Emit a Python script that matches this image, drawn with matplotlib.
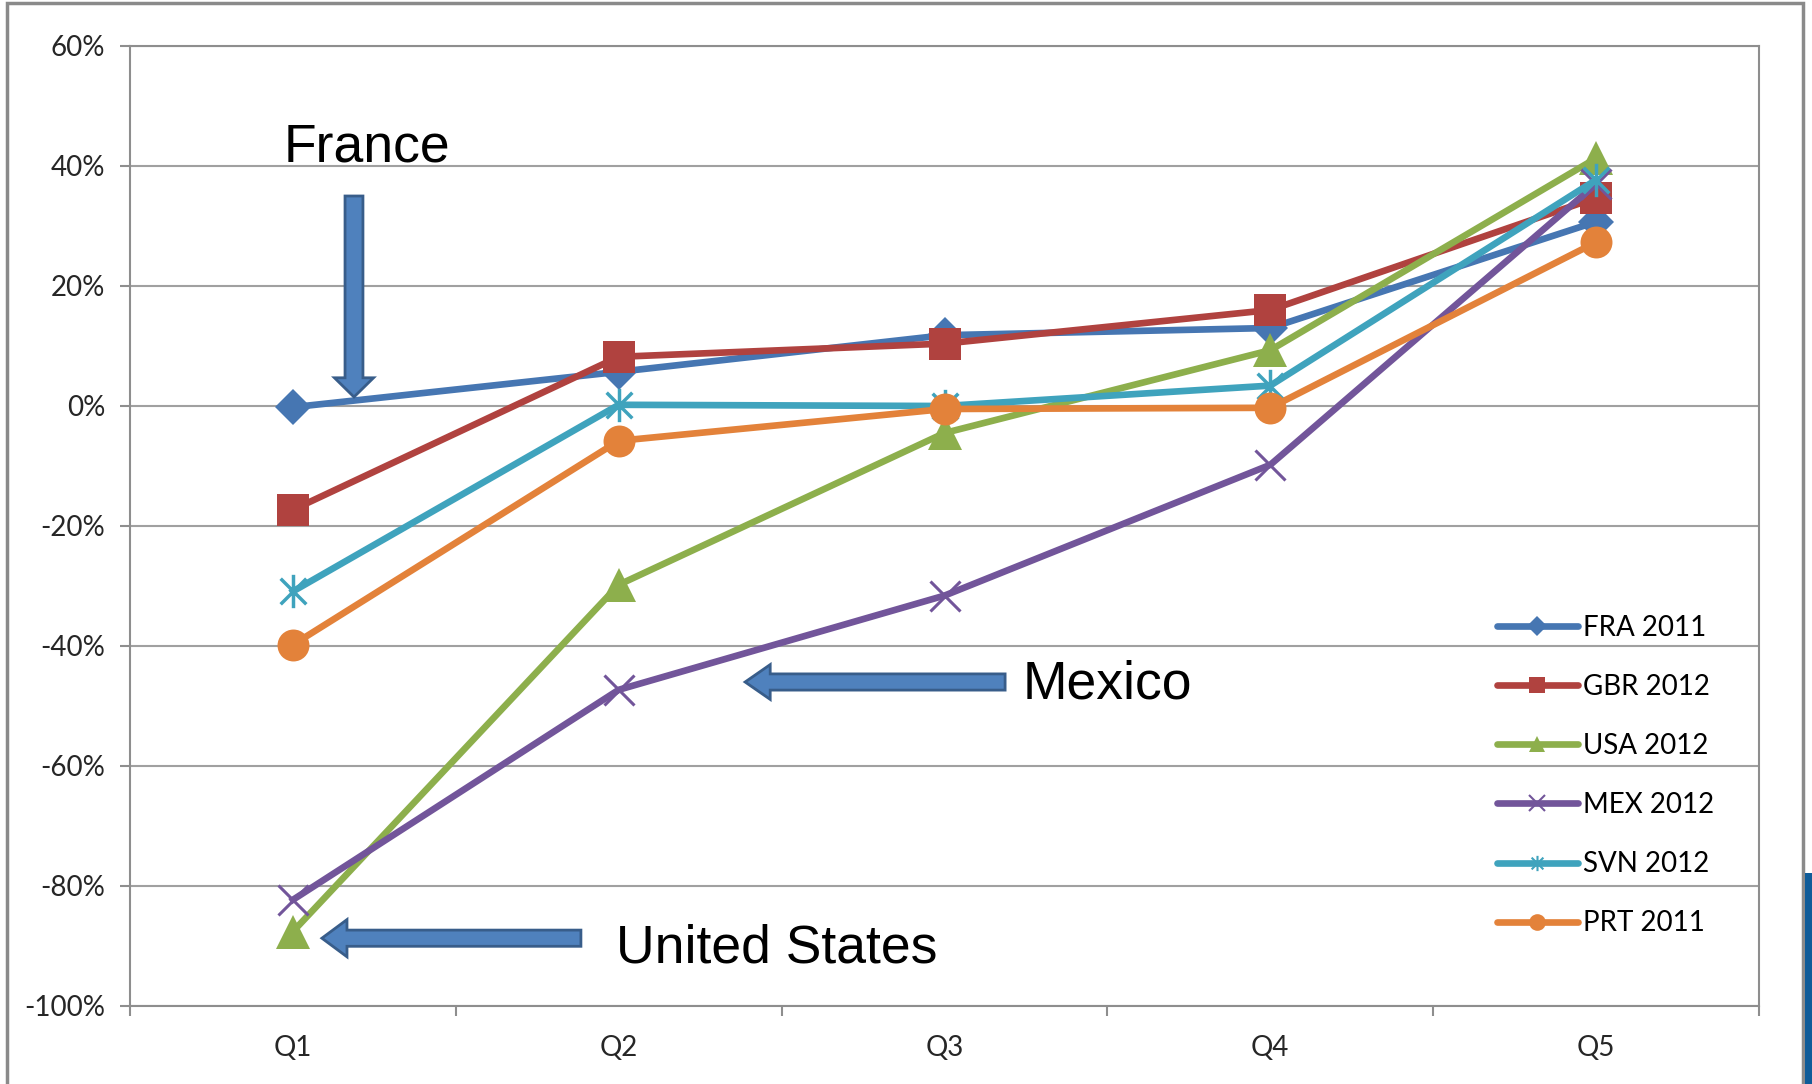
import matplotlib.pyplot as plt
import numpy as np
from matplotlib.path import Path
from matplotlib.patches import FancyArrow, Rectangle
from matplotlib.lines import Line2D

quintiles = ['Q1', 'Q2', 'Q3', 'Q4', 'Q5']

fra_2011 = [-0.2, 5.7, 11.8, 13.0, 30.7]
gbr_2012 = [-17.3, 8.2, 10.4, 16.0, 34.7]
usa_2012 = [-87.6, -29.8, -4.5, 9.3, 41.3]
mex_2012 = [-82.3, -47.3, -31.6, -9.8, 37.0]
svn_2012 = [-30.9, 0.2, 0.0, 3.4, 37.7]
prt_2011 = [-39.8, -5.8, -0.5, -0.3, 27.3]

series_names = ['FRA 2011', 'GBR 2012', 'USA 2012', 'MEX 2012', 'SVN 2012', 'PRT 2011']

y_ticks = [-100, -80, -60, -40, -20, 0, 20, 40, 60]
y_tick_labels = ['-100%', '-80%', '-60%', '-40%', '-20%', '0%', '20%', '40%', '60%']

# asterisk marker: an X with a vertical bar through it
star = Path([(-1, -1), (1, 1), (-1, 1), (1, -1), (0, -1.3), (0, 1.3)],
            [Path.MOVETO, Path.LINETO, Path.MOVETO, Path.LINETO, Path.MOVETO, Path.LINETO])

styles = [
    dict(color='#4676B2', marker='D', ms=18, mew=0),
    dict(color='#B0423F', marker='s', ms=23, mew=0),
    dict(color='#8DAF4C', marker='^', ms=24, mew=0),
    dict(color='#72559A', marker='x', ms=22, mew=2.2),
    dict(color='#3FA3BD', marker=star, ms=24, mew=2.5),
    dict(color='#E3823A', marker='o', ms=23, mew=0),
]
legend_ms = [10, 12, 12, 11, 11, 12]
line_w = 4.8

values = [fra_2011, gbr_2012, usa_2012, mex_2012, svn_2012, prt_2011]

fig = plt.figure(figsize=(18.12, 10.84), dpi=100)
ax = fig.add_axes([130 / 1812, 1 - 1006 / 1084, (1759 - 130) / 1812, (1006 - 46) / 1084])

x = np.arange(len(quintiles))
for i, (name, vals, st) in enumerate(zip(series_names, values, styles)):
    ax.plot(x, vals, color=st['color'], lw=line_w, marker=st['marker'],
            markersize=st['ms'], markeredgewidth=st['mew'],
            markeredgecolor=st['color'], markerfacecolor=st['color'],
            label=name, zorder=3 + i, solid_joinstyle='round')

ax.set_xlim(-0.5, 4.5)
ax.set_ylim(-100, 60)
ax.set_yticks(y_ticks)
ax.set_yticklabels(y_tick_labels)
ax.set_xticks(x)
ax.set_xticklabels(quintiles)
ax.set_xticks(np.arange(-0.5, 5, 1), minor=True)

gray = '#8E8E8E'
ax.grid(axis='y', color='#A0A0A0', lw=1.5, zorder=0)
for sp in ax.spines.values():
    sp.set_color(gray)
    sp.set_linewidth(1.5)
ax.tick_params(axis='y', length=7, width=1.5, color=gray, pad=11,
               labelsize=20, labelcolor='#262626')
ax.tick_params(axis='x', which='major', length=0, pad=21,
               labelsize=20, labelcolor='#262626')
ax.tick_params(axis='x', which='minor', length=7, width=1.5, color=gray)
for lab in ax.get_xticklabels() + ax.get_yticklabels():
    lab.set_fontfamily('Lato')

# legend with smaller markers
handles = []
for name, st, lm in zip(series_names, styles, legend_ms):
    handles.append(Line2D([], [], color=st['color'], lw=line_w, marker=st['marker'],
                          markersize=lm, markeredgewidth=min(st['mew'], 1.5),
                          markeredgecolor=st['color'], markerfacecolor=st['color'],
                          solid_capstyle='round'))
ax.legend(handles, series_names, loc='upper left', frameon=False,
          bbox_to_anchor=(1497 / 1812, 1 - 615 / 1084), bbox_transform=fig.transFigure,
          borderpad=0, borderaxespad=0, handlelength=2.9, handletextpad=0.2,
          labelspacing=1.19, prop={'family': 'Lato', 'size': 20})

# callout arrows and country names
arrow_face = '#4F81BD'
arrow_edge = '#385D8A'
ax.add_patch(FancyArrow(0.1875, 35.0, 0, -33.5, width=0.055, head_width=0.12,
                        head_length=3.2, length_includes_head=True,
                        fc=arrow_face, ec=arrow_edge, lw=2, zorder=10))
ax.add_patch(FancyArrow(2.186, -46.0, -0.798, 0, width=2.7, head_width=5.8,
                        head_length=0.077, length_includes_head=True,
                        fc=arrow_face, ec=arrow_edge, lw=2, zorder=10))
ax.add_patch(FancyArrow(0.884, -88.7, -0.795, 0, width=2.7, head_width=6.2,
                        head_length=0.077, length_includes_head=True,
                        fc=arrow_face, ec=arrow_edge, lw=2, zorder=10))

note_font = dict(family='Liberation Sans', size=38.5, color='black', va='baseline', ha='left')
ax.text(-0.030, 40.7, 'France', **note_font)
ax.text(2.241, -48.8, 'Mexico', **note_font)
ax.text(0.992, -92.8, 'United States', **note_font)

# outer chart frame and neighbouring shape at the edge
fig.patches.append(Rectangle((7 / 1812, -0.05), (1803 - 7) / 1812, 1.05 - 3 / 1084,
                             transform=fig.transFigure, fill=False, ec='#8A8A8A', lw=2.5))
fig.patches.append(Rectangle((1805 / 1812, -0.01), 0.01, (1084 - 873) / 1084 + 0.01,
                             transform=fig.transFigure, fc='#0F5C99', ec='none'))

fig.savefig('out.png', dpi=100, facecolor='white')
